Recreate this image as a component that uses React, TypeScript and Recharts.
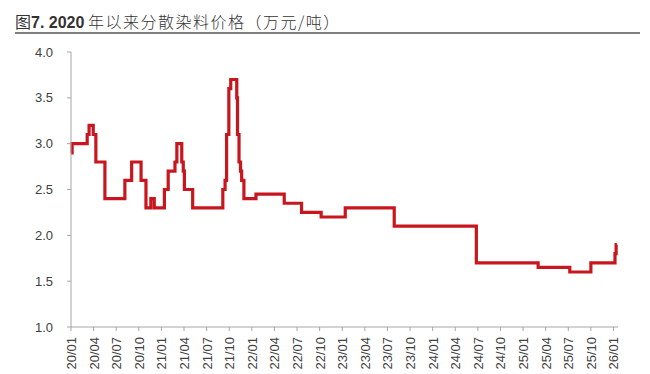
import { LineChart, Line, XAxis, YAxis } from "recharts";

// months since 2020/01 at which the price changes (step chart)
const stepMonths = [
  0, 0.15, 2.15, 2.4, 2.95, 3.3, 4.5, 7.15, 8.05, 9.3, 9.95, 10.6, 11.05, 12.4,
  12.9, 13.8, 14.05, 14.7, 14.9, 15.05, 16.15, 20.15, 20.45, 20.65, 20.95, 21.2,
  22.0, 22.1, 22.3, 22.5, 22.65, 22.95, 24.55, 28.3, 30.6, 33.2, 36.4, 42.9,
  53.8, 62.0, 66.2, 69.0, 72.2, 72.35, 72.45,
];
// price, 万元/吨
const stepPrices = [
  2.9, 3.0, 3.1, 3.2, 3.1, 2.8, 2.4, 2.6, 2.8, 2.6, 2.3, 2.4, 2.3, 2.5, 2.7,
  2.8, 3.0, 2.8, 2.7, 2.5, 2.3, 2.5, 2.6, 3.1, 3.6, 3.7, 3.5, 3.1, 2.8, 2.7,
  2.6, 2.4, 2.45, 2.35, 2.25, 2.2, 2.3, 2.1, 1.7, 1.65, 1.6, 1.7, 1.8, 1.9, 1.9,
];

const xTicks = Array.from({ length: 25 }, (_, i) => i * 3);
const yTicks = [1.0, 1.5, 2.0, 2.5, 3.0, 3.5, 4.0];

const data = stepMonths.map((m, i) => ({ m, price: stepPrices[i] }));

const fmtMonth = (m: number) => {
  const yy = 20 + Math.floor(m / 12);
  const mm = (m % 12) + 1;
  return `${yy}/${String(mm).padStart(2, "0")}`;
};

const RotatedTick = (props: any) => {
  const { x, y, payload } = props;
  return (
    <g transform={`translate(${x},${y})`}>
      <text
        transform="rotate(-90)"
        x={-4}
        y={0}
        dy={5}
        textAnchor="end"
        fill="#404040"
        fontSize={13}
        fontFamily="'Liberation Sans', Arial, sans-serif"
      >
        {fmtMonth(payload.value)}
      </text>
    </g>
  );
};

export default function App() {
  return (
    <div
      style={{
        position: "absolute",
        left: 0,
        top: 0,
        width: 650,
        height: 374,
        background: "#fff",
        overflow: "hidden",
      }}
    >
      <div
        style={{
          position: "absolute",
          left: 15,
          top: 11,
          fontSize: 16,
          lineHeight: "20px",
          color: "#333",
          fontFamily: "'Noto Sans CJK SC', sans-serif",
          whiteSpace: "nowrap",
        }}
      >
        图<b style={{ fontFamily: "'Liberation Sans', Arial, sans-serif" }}>7. 2020</b>{" "}
        <span style={{ letterSpacing: 1.5, fontWeight: 300 }}>年以来分散染料价格（万元/吨）</span>
      </div>
      <div
        style={{
          position: "absolute",
          left: 15,
          top: 32,
          width: 625,
          height: 1.5,
          background: "#7f7f7f",
        }}
      />
      <div style={{ position: "absolute", left: 0, top: 0 }}>
        <LineChart
          width={650}
          height={374}
          data={data}
          margin={{ top: 52, right: 32, bottom: 0, left: 11 }}
        >
          <XAxis
            dataKey="m"
            type="number"
            domain={[0, 72.6]}
            ticks={xTicks}
            interval={0}
            tick={<RotatedTick />}
            height={47}
            stroke="#a6a6a6"
            tickSize={4}
          />
          <YAxis
            type="number"
            domain={[1, 4]}
            ticks={yTicks}
            width={60}
            stroke="#a6a6a6"
            tickSize={4}
            tickMargin={14}
            tickFormatter={(v: number) => v.toFixed(1)}
            tick={{
              fontSize: 13,
              fill: "#404040",
              fontFamily: "'Liberation Sans', Arial, sans-serif",
            }}
          />
          <Line
            type="stepAfter"
            dataKey="price"
            stroke="#c8161e"
            strokeWidth={3.2}
            dot={false}
            isAnimationActive={false}
          />
        </LineChart>
      </div>
    </div>
  );
}
